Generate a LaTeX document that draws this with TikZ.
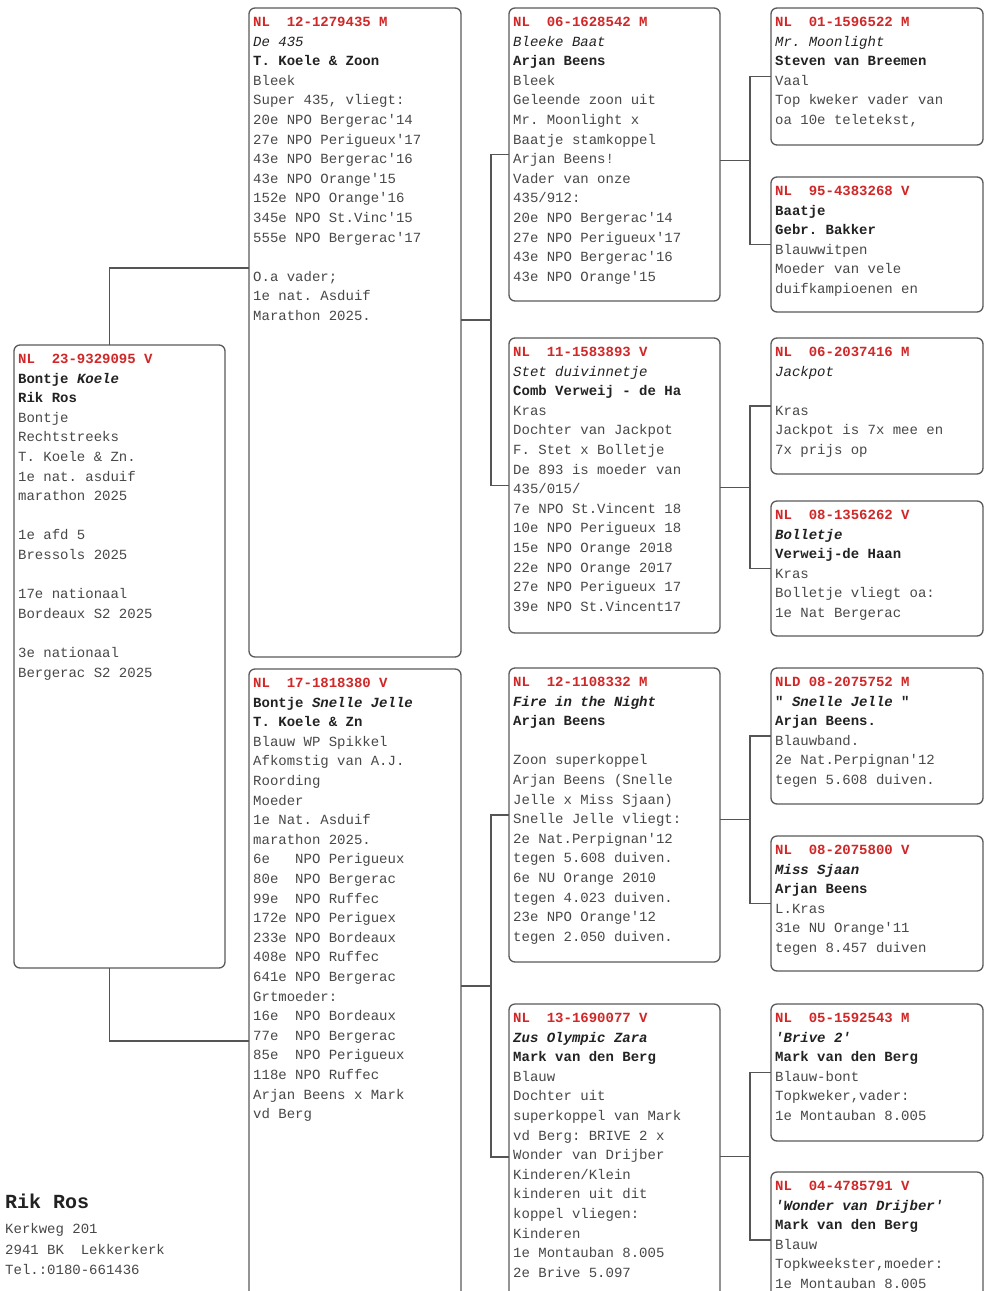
\documentclass[tikz,border=0pt]{standalone}
\usepackage{fontspec}
\newfontfamily\pedmono{Liberation Mono}
\usetikzlibrary{calc}
\frenchspacing
\definecolor{hdred}{HTML}{D02828}
\definecolor{txtgray}{HTML}{484848}
\definecolor{darktxt}{HTML}{222222}
\definecolor{boxgray}{HTML}{5A5A5A}
\definecolor{linegray}{HTML}{555555}
\newcommand\pedhd[1]{\textcolor{hdred}{\textbf{#1}}}
\newcommand\pedbf[1]{\textcolor{darktxt}{\textbf{#1}}}
\newcommand\pedbi[1]{\textcolor{darktxt}{\textbf{\textit{#1}}}}
\newcommand\pedit[1]{\textcolor{darktxt}{\textit{#1}}}
\newcommand\pedcard[6]{%
  \node[card, minimum width={#4-#2}, minimum height={#5-#3}] (#1) at ({(#2+#4)/2},{(#3+#5)/2}) {};
  \node[info] (#1t) at ({#2+4},{#3+9}) {#6};}
\begin{document}
\begin{tikzpicture}[x=1pt,y=-1pt,
  card/.style={draw=boxgray, line width=1.3pt, rounded corners=6pt, fill=white, inner sep=0pt, outer sep=0pt},
  info/.style={anchor=north west, inner sep=0pt, align=left, text=txtgray, font=\pedmono\frenchspacing\fontsize{14}{19.6}\selectfont},
  link/.style={draw=linegray, line width=1.3pt},
  foot/.style={anchor=base west, inner sep=0pt, text=txtgray, font=\pedmono\frenchspacing\fontsize{14}{20.5}\selectfont}]
\useasboundingbox (0,0) rectangle (987,1291);
\clip (0,0) rectangle (987,1291);
\fill[white] (0,0) rectangle (987,1291);

% generation 0
\pedcard{S}{14}{345}{225}{968}{\pedhd{NL~~23-9329095 V}\\
\pedbf{Bontje \textit{Koele}}\\
\pedbf{Rik Ros}\\
Bontje\\
Rechtstreeks\\
T. Koele \& Zn.\\
1e nat. asduif\\
marathon 2025\\
\mbox{}\\
1e afd 5\\
Bressols 2025\\
\mbox{}\\
17e nationaal\\
Bordeaux S2 2025\\
\mbox{}\\
3e nationaal\\
Bergerac S2 2025}

% generation 1
\pedcard{A}{249}{8}{461}{657}{\pedhd{NL~~12-1279435 M}\\
\pedit{De 435}\\
\pedbf{T. Koele \& Zoon}\\
Bleek\\
Super 435, vliegt:\\
20e NPO Bergerac'14\\
27e NPO Perigueux'17\\
43e NPO Bergerac'16\\
43e NPO Orange'15\\
152e NPO Orange'16\\
345e NPO St.Vinc'15\\
555e NPO Bergerac'17\\
\mbox{}\\
O.a vader;\\
1e nat. Asduif\\
Marathon 2025.}

\pedcard{B}{249}{669}{461}{1310}{\pedhd{NL~~17-1818380 V}\\
\pedbf{Bontje \textit{Snelle Jelle}}\\
\pedbf{T. Koele \& Zn}\\
Blauw WP Spikkel\\
Afkomstig van A.J.\\
Roording\\
Moeder\\
1e Nat. Asduif\\
marathon 2025.\\
6e~~~NPO Perigueux\\
80e~~NPO Bergerac\\
99e~~NPO Ruffec\\
172e NPO Periguex\\
233e NPO Bordeaux\\
408e NPO Ruffec\\
641e NPO Bergerac\\
Grtmoeder:\\
16e~~NPO Bordeaux\\
77e~~NPO Bergerac\\
85e~~NPO Perigueux\\
118e NPO Ruffec\\
Arjan Beens x Mark\\
vd Berg}

% generation 2
\pedcard{AA}{509}{8}{720}{301}{\pedhd{NL~~06-1628542 M}\\
\pedit{Bleeke Baat}\\
\pedbf{Arjan Beens}\\
Bleek\\
Geleende zoon uit\\
Mr. Moonlight x\\
Baatje stamkoppel\\
Arjan Beens!\\
Vader van onze\\
435/912:\\
20e NPO Bergerac'14\\
27e NPO Perigueux'17\\
43e NPO Bergerac'16\\
43e NPO Orange'15}

\pedcard{AB}{509}{338}{720}{633}{\pedhd{NL~~11-1583893 V}\\
\pedit{Stet duivinnetje}\\
\pedbf{Comb Verweij - de Ha}\\
Kras\\
Dochter van Jackpot\\
F. Stet x Bolletje\\
De 893 is moeder van\\
435/015/\\
7e NPO St.Vincent 18\\
10e NPO Perigueux 18\\
15e NPO Orange 2018\\
22e NPO Orange 2017\\
27e NPO Perigueux 17\\
39e NPO St.Vincent17}

\pedcard{BA}{509}{668}{720}{962}{\pedhd{NL~~12-1108332 M}\\
\pedbi{Fire in the Night}\\
\pedbf{Arjan Beens}\\
\mbox{}\\
Zoon superkoppel\\
Arjan Beens (Snelle\\
Jelle x Miss Sjaan)\\
Snelle Jelle vliegt:\\
2e Nat.Perpignan'12\\
tegen 5.608 duiven.\\
6e NU Orange 2010\\
tegen 4.023 duiven.\\
23e NPO Orange'12\\
tegen 2.050 duiven.}

\pedcard{BB}{509}{1004}{720}{1310}{\pedhd{NL~~13-1690077 V}\\
\pedbi{Zus Olympic Zara}\\
\pedbf{Mark van den Berg}\\
Blauw\\
Dochter uit\\
superkoppel van Mark\\
vd Berg: BRIVE 2 x\\
Wonder van Drijber\\
Kinderen/Klein\\
kinderen uit dit\\
koppel vliegen:\\
Kinderen\\
1e Montauban 8.005\\
2e Brive 5.097}

% generation 3
\pedcard{AAA}{771}{8}{983}{145}{\pedhd{NL~~01-1596522 M}\\
\pedit{Mr. Moonlight}\\
\pedbf{Steven van Breemen}\\
Vaal\\
Top kweker vader van\\
oa 10e teletekst,}

\pedcard{AAB}{771}{177}{983}{312}{\pedhd{NL~~95-4383268 V}\\
\pedbf{Baatje}\\
\pedbf{Gebr. Bakker}\\
Blauwwitpen\\
Moeder van vele\\
duifkampioenen en}

\pedcard{ABA}{771}{338}{983}{474}{\pedhd{NL~~06-2037416 M}\\
\pedit{Jackpot}\\
\mbox{}\\
Kras\\
Jackpot is 7x mee en\\
7x prijs op}

\pedcard{ABB}{771}{501}{983}{636}{\pedhd{NL~~08-1356262 V}\\
\pedbi{Bolletje}\\
\pedbf{Verweij-de Haan}\\
Kras\\
Bolletje vliegt oa:\\
1e Nat Bergerac}

\pedcard{BAA}{771}{668}{983}{804}{\pedhd{NLD 08-2075752 M}\\
\pedbf{" \textit{Snelle Jelle} "}\\
\pedbf{Arjan Beens.}\\
Blauwband.\\
2e Nat.Perpignan'12\\
tegen 5.608 duiven.}

\pedcard{BAB}{771}{836}{983}{971}{\pedhd{NL~~08-2075800 V}\\
\pedbi{Miss Sjaan}\\
\pedbf{Arjan Beens}\\
L.Kras\\
31e NU Orange'11\\
tegen 8.457 duiven}

\pedcard{BBA}{771}{1004}{983}{1141}{\pedhd{NL~~05-1592543 M}\\
\pedbi{'Brive 2'}\\
\pedbf{Mark van den Berg}\\
Blauw-bont\\
Topkweker,vader:\\
1e Montauban 8.005}

\pedcard{BBB}{771}{1172}{983}{1308}{\pedhd{NL~~04-4785791 V}\\
\pedbi{'Wonder van Drijber'}\\
\pedbf{Mark van den Berg}\\
Blauw\\
Topkweekster,moeder:\\
1e Montauban 8.005}

% connectors generation 0 -> 1
\draw[link] ([xshift=-10pt]S.north) |- ([yshift=64.5pt]A.west);
\draw[link] ([xshift=-10pt]S.south) |- ([yshift=-51.5pt]B.west);

% brackets
\coordinate (jA) at ($(AA.west)!0.5!(AB.west)+(-18,0)$);
\draw[link] (AA.west) -| (jA) |- (AB.west);
\draw[link] (A.east |- jA) -- (jA);

\coordinate (jB) at ($(BA.west)!0.5!(BB.west)+(-18,0)$);
\draw[link] (BA.west) -| (jB) |- (BB.west);
\draw[link] (B.east |- jB) -- (jB);

\coordinate (jAA) at ($(AAA.west)!0.5!(AAB.west)+(-21,0)$);
\draw[link] (AAA.west) -| (jAA) |- (AAB.west);
\draw[link] (AA.east |- jAA) -- (jAA);

\coordinate (jAB) at ($(ABA.west)!0.5!(ABB.west)+(-21,0)$);
\draw[link] (ABA.west) -| (jAB) |- (ABB.west);
\draw[link] (AB.east |- jAB) -- (jAB);

\coordinate (jBA) at ($(BAA.west)!0.5!(BAB.west)+(-21,0)$);
\draw[link] (BAA.west) -| (jBA) |- (BAB.west);
\draw[link] (BA.east |- jBA) -- (jBA);

\coordinate (jBB) at ($(BBA.west)!0.5!(BBB.west)+(-21,0)$);
\draw[link] (BBA.west) -| (jBB) |- (BBB.west);
\draw[link] (BB.east |- jBB) -- (jBB);

% footer
\node[foot, text=darktxt, font=\pedmono\bfseries\fontsize{20}{24}\selectfont] (fname) at (5,1208) {Rik Ros};
\node[foot] (fstreet) at (5,1233) {Kerkweg 201};
\node[foot] (fcity) at (5,1254) {2941 BK~~Lekkerkerk};
\node[foot] (ftel) at (5,1274) {Tel.:0180-661436};
\end{tikzpicture}
\end{document}
